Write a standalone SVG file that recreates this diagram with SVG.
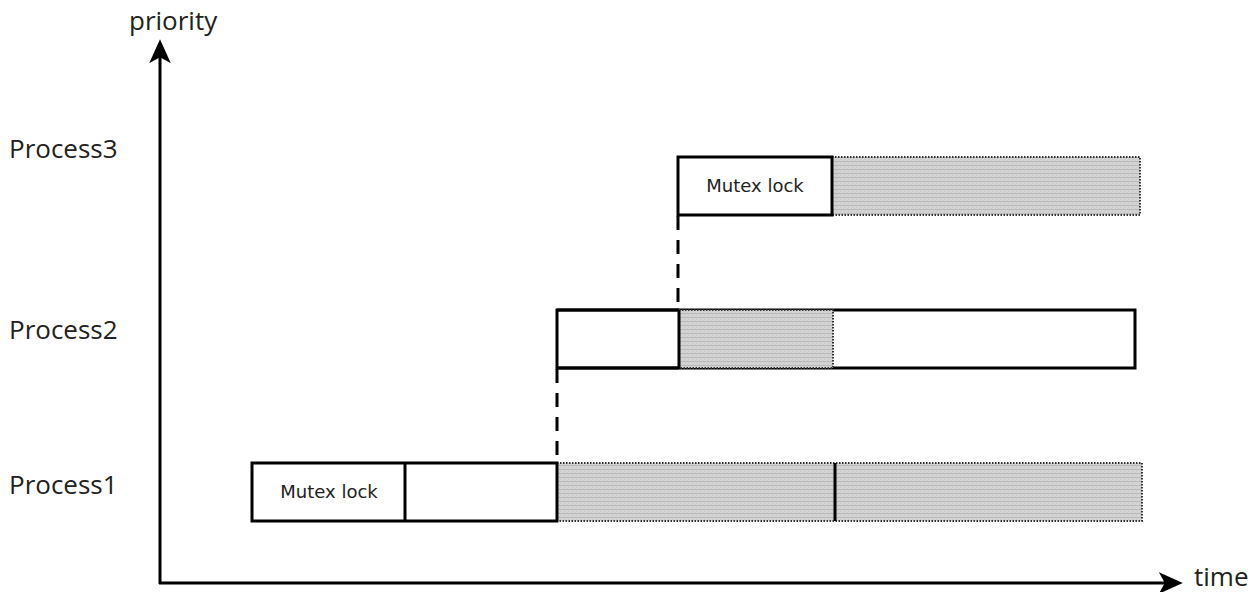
<svg xmlns="http://www.w3.org/2000/svg" width="1257" height="592" viewBox="0 0 1257 592">
  <style>
    .axis { stroke: #000; stroke-width: 3; fill: none; }
    .label { font-family: "Open Sans", "Liberation Sans", sans-serif; font-size: 26px; fill: #222; }
    .tag { font-family: "DejaVu Sans", "Liberation Sans", sans-serif; font-size: 18px; fill: #222; text-anchor: middle; }
    .run { fill: #fff; stroke: #000; stroke-width: 3; }
    .wait { fill: url(#hatch); stroke: #333; stroke-width: 2; stroke-dasharray: 1.5 1.5; }
    .link { stroke: #000; stroke-width: 3; stroke-dasharray: 14 10; fill: none; }
  </style>
  <defs>
    <pattern id="hatch" width="4" height="4" patternUnits="userSpaceOnUse">
      <rect width="4" height="4" fill="#d4d4d4"/>
      <path d="M0 1.5H4" stroke="#b8b8b8" stroke-width="1"/>
      <path d="M0 4L4 0" stroke="#c4c4c4" stroke-width="0.6"/>
    </pattern>
    <marker id="arrow" viewBox="0 0 20 20" refX="16" refY="10" markerWidth="8" markerHeight="8" markerUnits="strokeWidth" orient="auto">
      <path d="M0 1 L20 10 L0 19 L5 10 Z" fill="#000"/>
    </marker>
  </defs>

  <rect width="1257" height="592" fill="#fff"/>

  <!-- axes -->
  <g id="axes">
    <path class="axis" d="M160 584 V44" marker-end="url(#arrow)"/>
    <path class="axis" d="M159 583 H1178" marker-end="url(#arrow)"/>
    <text class="label" x="129" y="30">priority</text>
    <text class="label" x="1194" y="586">time</text>
  </g>

  <!-- row labels -->
  <g id="labels">
    <text class="label" x="9" y="158">Process3</text>
    <text class="label" x="9" y="339">Process2</text>
    <text class="label" x="9" y="494">Process1</text>
  </g>

  <!-- dashed hand-over connectors -->
  <g id="connectors">
    <path class="link" d="M678 216 V310"/>
    <path class="link" d="M557 369 V462"/>
  </g>

  <g id="process3">
    <rect class="wait" x="832" y="157" width="308" height="58"/>
    <rect class="run" x="678" y="157" width="154" height="58"/>
    <text class="tag" x="755" y="192">Mutex lock</text>
  </g>

  <g id="process2">
    <rect class="run" x="557" y="310" width="578" height="58"/>
    <rect class="wait" x="679" y="310" width="154" height="58"/>
    <path d="M557 310 H679 M557 368 H679 M679 310 V368" stroke="#000" stroke-width="3" fill="none"/>
  </g>

  <g id="process1">
    <rect class="wait" x="557" y="463" width="585" height="58"/>
    <path d="M835 463 V521" stroke="#000" stroke-width="3"/>
    <rect class="run" x="252" y="463" width="305" height="58"/>
    <path d="M405 463 V521" stroke="#000" stroke-width="3"/>
    <text class="tag" x="329" y="498">Mutex lock</text>
  </g>
</svg>
